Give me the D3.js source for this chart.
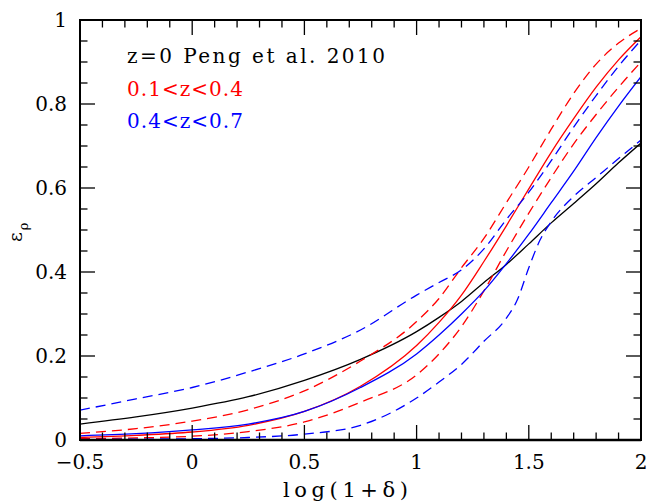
<!DOCTYPE html>
<html><head><meta charset="utf-8">
<script src="https://cdn.jsdelivr.net/npm/d3@7/dist/d3.min.js"></script>
<style>body{margin:0;background:#fff} svg{display:block}</style>
</head><body>
<svg id="c" width="649" height="504"></svg>
<script>
// ---- data ----
const logDelta = [-0.5, -0.25, 0, 0.25, 0.5, 0.75, 1.0, 1.1, 1.2, 1.3, 1.4, 1.5, 1.6, 1.7, 1.8, 1.9, 2.0];
const pengZ0        = [0.038, 0.055, 0.076, 0.103, 0.142, 0.192, 0.258, 0.292, 0.330, 0.375, 0.418, 0.467, 0.517, 0.563, 0.610, 0.660, 0.707];
const redMid        = [0.006, 0.011, 0.019, 0.035, 0.068, 0.128, 0.225, 0.280, 0.345, 0.425, 0.510, 0.598, 0.685, 0.765, 0.840, 0.905, 0.960];
const redUpper      = [0.016, 0.027, 0.045, 0.072, 0.117, 0.188, 0.282, 0.337, 0.410, 0.480, 0.565, 0.650, 0.740, 0.825, 0.895, 0.945, 0.980];
const redLower      = [0.003, 0.005, 0.009, 0.020, 0.043, 0.090, 0.155, 0.205, 0.270, 0.355, 0.450, 0.540, 0.625, 0.705, 0.775, 0.840, 0.900];
const blueMid       = [0.010, 0.015, 0.024, 0.038, 0.068, 0.125, 0.205, 0.250, 0.300, 0.355, 0.420, 0.490, 0.565, 0.640, 0.720, 0.795, 0.865];
const blueUpper     = [0.071, 0.098, 0.125, 0.162, 0.205, 0.262, 0.345, 0.375, 0.405, 0.455, 0.525, 0.590, 0.665, 0.745, 0.820, 0.890, 0.952];
const logDeltaBlueLow = [-0.5, -0.25, 0, 0.25, 0.5, 0.75, 1.0, 1.1, 1.2, 1.3, 1.4, 1.45, 1.5, 1.55, 1.6, 1.7, 1.8, 1.9, 2.0];
const blueLower     = [0.001, 0.002, 0.003, 0.006, 0.014, 0.035, 0.100, 0.138, 0.180, 0.235, 0.290, 0.335, 0.410, 0.476, 0.520, 0.580, 0.625, 0.670, 0.714];

const xTickValues = [-0.5, 0, 0.5, 1, 1.5, 2];
const xTickLabels = ["\u22120.5", "0", "0.5", "1", "1.5", "2"];
const yTickValues = [0, 0.2, 0.4, 0.6, 0.8, 1];
const yTickLabels = ["0", "0.2", "0.4", "0.6", "0.8", "1"];
const legendLabels = ["z=0 Peng et al. 2010", "0.1<z<0.4", "0.4<z<0.7"];
const legendColors = ["#000000", "#ff0000", "#0000ff"];

// ---- drawing ----
const svg = d3.select("#c");
const L = 80, R = 641, T = 20, B = 440;
const x = d3.scaleLinear().domain([-0.5, 2]).range([L, R]);
const y = d3.scaleLinear().domain([0, 1]).range([B, T]);
const font = "'DejaVu Serif', serif";

svg.append("clipPath").attr("id", "pc").append("rect")
  .attr("x", L).attr("y", T).attr("width", R - L).attr("height", B - T);

const series = [
  {xs: logDelta, ys: pengZ0, color: "#000000", dash: null},
  {xs: logDelta, ys: redMid, color: "#ff0000", dash: null},
  {xs: logDelta, ys: redUpper, color: "#ff0000", dash: "10,6"},
  {xs: logDelta, ys: redLower, color: "#ff0000", dash: "10,6"},
  {xs: logDelta, ys: blueMid, color: "#0000ff", dash: null},
  {xs: logDelta, ys: blueUpper, color: "#0000ff", dash: "10,6"},
  {xs: logDeltaBlueLow, ys: blueLower, color: "#0000ff", dash: "10,6"}
];
const line = d3.line().x(d => x(d[0])).y(d => y(d[1])).curve(d3.curveMonotoneX);
const g = svg.append("g").attr("clip-path", "url(#pc)");
series.forEach(s => {
  g.append("path")
    .attr("d", line(s.xs.map((v, i) => [v, s.ys[i]])))
    .attr("fill", "none").attr("stroke", s.color).attr("stroke-width", 1.3)
    .attr("stroke-dasharray", s.dash);
});

// ticks (all four sides, inward)
const major = 15, minor = 7.5;
const xMinor = d3.range(-5, 21).map(i => i / 10);
const yMinor = d3.range(0, 21).map(i => i / 20);
const tk = svg.append("g").attr("stroke", "#000").attr("stroke-width", 1.3);
xMinor.forEach(v => {
  const isMaj = xTickValues.some(m => Math.abs(m - v) < 1e-6);
  const len = isMaj ? major : minor;
  tk.append("line").attr("x1", x(v)).attr("x2", x(v)).attr("y1", B).attr("y2", B - len);
  tk.append("line").attr("x1", x(v)).attr("x2", x(v)).attr("y1", T).attr("y2", T + len);
});
yMinor.forEach(v => {
  const isMaj = yTickValues.some(m => Math.abs(m - v) < 1e-6);
  const len = isMaj ? major : minor;
  tk.append("line").attr("y1", y(v)).attr("y2", y(v)).attr("x1", L).attr("x2", L + len);
  tk.append("line").attr("y1", y(v)).attr("y2", y(v)).attr("x1", R).attr("x2", R - len);
});

// frame
svg.append("rect").attr("x", L).attr("y", T).attr("width", R - L).attr("height", B - T)
  .attr("fill", "none").attr("stroke", "#000").attr("stroke-width", 2);
svg.append("line").attr("x1", L).attr("x2", R).attr("y1", B).attr("y2", B)
  .attr("stroke", "#000").attr("stroke-width", 2.6);

// tick labels
xTickValues.forEach((v, i) => {
  svg.append("text").attr("x", x(v)).attr("y", 469).attr("text-anchor", "middle")
    .attr("font-family", font).attr("font-size", 20)
    .text(xTickLabels[i]);
});
yTickValues.forEach((v, i) => {
  svg.append("text").attr("x", 67).attr("y", y(v) + 7).attr("text-anchor", "end")
    .attr("font-family", font).attr("font-size", 20)
    .text(yTickLabels[i]);
});

// axis titles
svg.append("text").attr("x", 283).attr("y", 497)
  .attr("font-family", font).attr("font-size", 21)
  .attr("textLength", 125).attr("lengthAdjust", "spacing")
  .text("log(1+\u03b4)");
const yl = svg.append("text").attr("transform", "translate(22,242) rotate(-90)")
  .attr("font-family", font).attr("font-size", 19);
yl.append("tspan").text("\u03b5");
yl.append("tspan").attr("font-size", 13).attr("dy", 6).attr("dx", 2).text("\u03c1");

// legend
const legY = [63, 96, 128];
const legW = [258, 116, 116];
legendLabels.forEach((t, i) => {
  svg.append("text").attr("x", 127).attr("y", legY[i])
    .attr("font-family", font).attr("font-size", 20).attr("fill", legendColors[i])
    .attr("textLength", legW[i]).attr("lengthAdjust", "spacing")
    .text(t);
});
</script>
</body></html>
